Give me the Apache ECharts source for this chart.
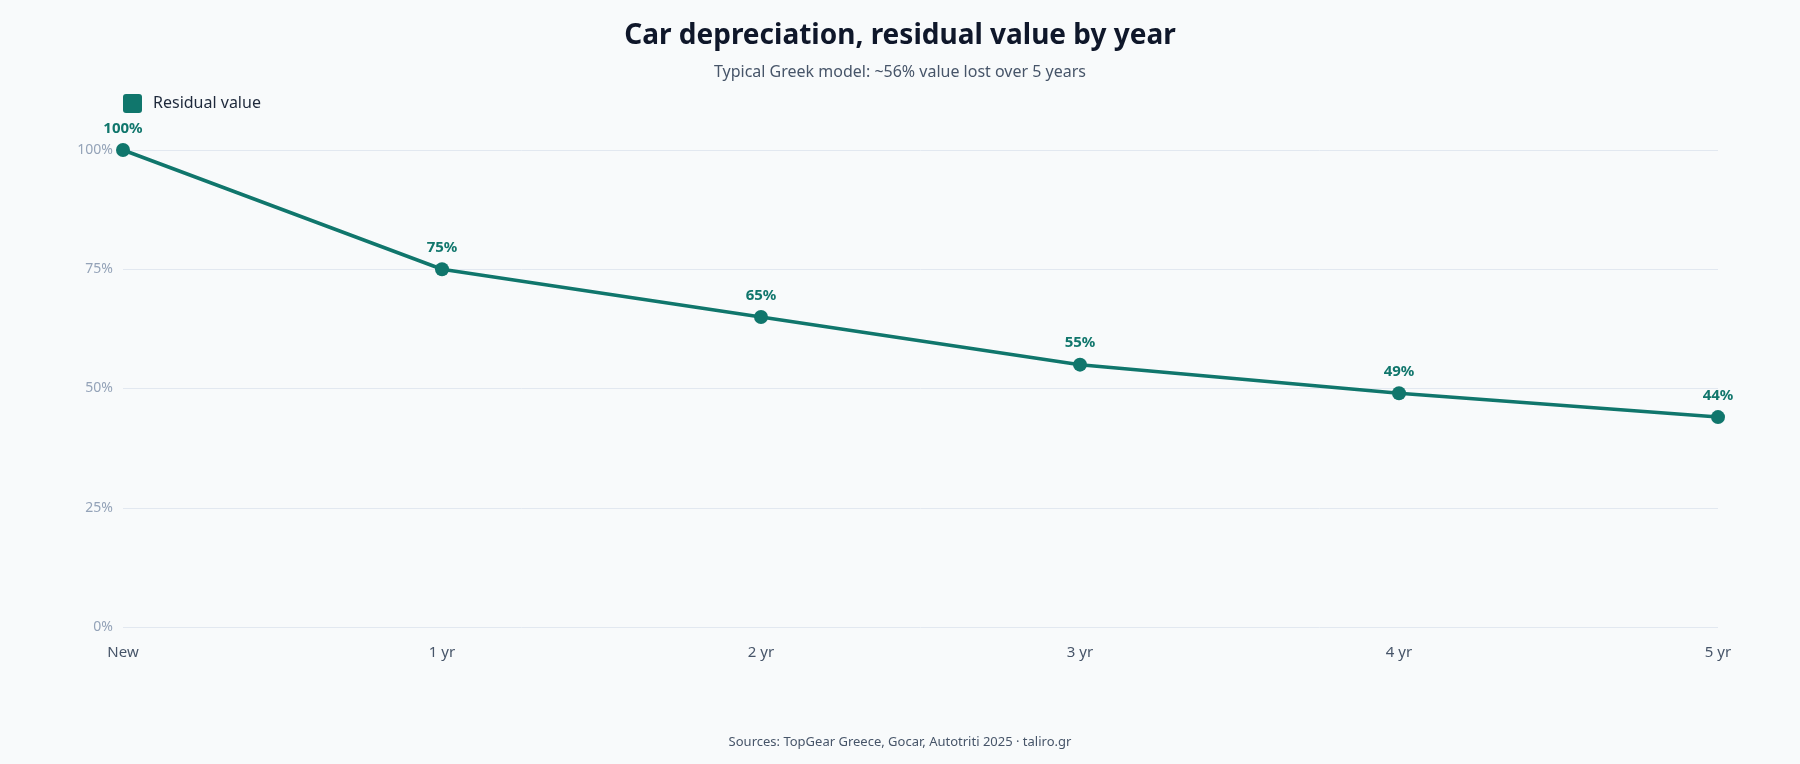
<!DOCTYPE html>
<html>
<head>
<meta charset="utf-8">
<script src="https://cdn.jsdelivr.net/npm/echarts@6/dist/echarts.min.js"></script>
<style>
  html, body { margin: 0; padding: 0; background: #f8fafb; }
  #main { width: 1800px; height: 764px; }
</style>
</head>
<body>
<div id="main"></div>
<script>
// data
const years = ['New', '1 yr', '2 yr', '3 yr', '4 yr', '5 yr'];
const residual = [100, 75, 65, 55, 49, 44];
const seriesName = 'Residual value';

const teal = '#10766c';
const font = '"Noto Sans", "Open Sans", sans-serif';

const chart = echarts.init(document.getElementById('main'));

const option = {
  backgroundColor: '#f8fafb',
  textStyle: { fontFamily: font },
  title: [
    {
      text: 'Car depreciation, residual value by year',
      subtext: 'Typical Greek model: ~56% value lost over 5 years',
      left: 'center',
      top: 17,
      itemGap: 14,
      textStyle: { fontSize: 28, fontWeight: 'bold', color: '#0f172a', fontFamily: font },
      subtextStyle: { fontSize: 16, color: '#475569', fontFamily: font }
    },
    {
      text: 'Sources: TopGear Greece, Gocar, Autotriti 2025 · taliro.gr',
      left: 'center',
      top: 731,
      textStyle: { fontSize: 13, fontWeight: 'normal', color: '#475569', fontFamily: font }
    }
  ],
  legend: {
    data: [seriesName],
    left: 118,
    top: 89,
    icon: 'path://M3,0 H16 A3,3 0 0 1 19,3 V16 A3,3 0 0 1 16,19 H3 A3,3 0 0 1 0,16 V3 A3,3 0 0 1 3,0 Z',
    itemWidth: 19,
    itemHeight: 19,
    textStyle: { fontSize: 16, color: '#1e293b', fontFamily: font, padding: [0, 0, 0, 6] }
  },
  grid: {
    left: 123,
    right: 82,
    top: 150,
    bottom: 137,
    containLabel: false
  },
  xAxis: {
    type: 'category',
    data: years,
    boundaryGap: false,
    axisLine: { show: false },
    axisTick: { show: false },
    axisLabel: { color: '#475569', fontSize: 15, margin: 18, fontFamily: font }
  },
  yAxis: {
    type: 'value',
    min: 0,
    max: 100,
    interval: 25,
    axisLabel: { formatter: '{value}%', color: '#94a3b8', fontSize: 14, margin: 10, fontFamily: font },
    splitLine: { lineStyle: { color: '#e2e8f0', width: 1 } },
    axisLine: { show: false },
    axisTick: { show: false }
  },
  series: [
    {
      name: seriesName,
      type: 'line',
      data: residual,
      color: teal,
      symbol: 'circle',
      symbolSize: 14,
      lineStyle: { width: 3.5, color: teal },
      itemStyle: { color: teal },
      label: {
        show: true,
        position: 'top',
        distance: 7,
        formatter: '{c}%',
        color: teal,
        fontSize: 15,
        fontWeight: 'bold',
        fontFamily: font
      }
    }
  ]
};

chart.setOption(option);
</script>
</body>
</html>
